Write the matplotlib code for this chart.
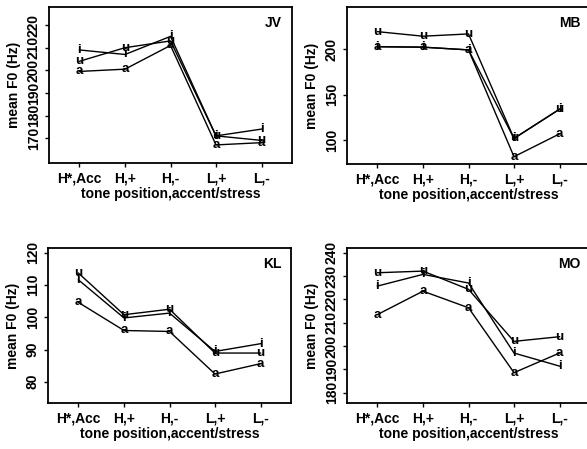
import matplotlib
matplotlib.use('Agg')
import matplotlib.pyplot as plt

plt.rcParams['font.family'] = ['Liberation Sans', 'DejaVu Sans']
plt.rcParams['font.weight'] = 'bold'
plt.rcParams['axes.labelweight'] = 'bold'

# tone positions on the x axis
categories = ['H*,Acc', 'H,+', 'H,-', 'L,+', 'L,-']

# mean F0 per vowel (i, u, a) for every speaker
jv_i = [209, 207, 215, 171, 174]
jv_u = [204, 210, 213, 171, 169]
jv_a = [199.5, 200.5, 211, 167, 168]

mb_i = [202.5, 202, 199, 102, 134]
mb_u = [219, 214, 216.5, 102, 134]
mb_a = [202.5, 202, 199, 82, 107]

kl_i = [111.6, 99.8, 101.3, 89.4, 91.8]
kl_u = [113.7, 100.8, 102.5, 88.9, 88.9]
kl_a = [104.6, 95.9, 95.6, 82.4, 85.6]

mo_i = [225.7, 230.7, 227, 197, 191.4]
mo_u = [231.4, 232.1, 224.3, 202, 204]
mo_a = [213.5, 223.5, 216.4, 188.6, 197]

speakers = ['JV', 'MB', 'KL', 'MO']
yticks = {'JV': [170, 180, 190, 200, 210, 220],
          'MB': [100, 150, 200],
          'KL': [80, 90, 100, 110, 120],
          'MO': [180, 190, 200, 210, 220, 230, 240]}
ylims = {'JV': (159, 228), 'MB': (74, 246), 'KL': (73.4, 121.5), 'MO': (175.6, 242)}
data = {'JV': (jv_i, jv_u, jv_a), 'MB': (mb_i, mb_u, mb_a),
        'KL': (kl_i, kl_u, kl_a), 'MO': (mo_i, mo_u, mo_a)}

W, H = 587, 449
fig = plt.figure(figsize=(W / 100, H / 100), dpi=100)

# axes boxes in pixels: left, top, width, height
boxes = {'JV': (49, 7, 243, 156), 'MB': (347, 7, 243, 157),
         'KL': (48, 248, 243, 155), 'MO': (347, 248, 243, 155)}

x = list(range(1, len(categories) + 1))

for sp in speakers:
    l, t, w, h = boxes[sp]
    ax = fig.add_axes([l / W, 1 - (t + h) / H, w / W, h / H])
    for vals, letter in zip(data[sp], ['i', 'u', 'a']):
        ax.plot(x, vals, color='black', lw=1.0)
        for xx, yy in zip(x, vals):
            ax.text(xx, yy, letter, ha='center', va='center', fontsize=9.5,
                    fontweight='bold', color='black')
    ax.set_xlim(0.33, 5.67)
    ax.set_ylim(*ylims[sp])
    ax.set_xticks(x)
    ax.set_xticklabels(categories, fontsize=10)
    ax.set_yticks(yticks[sp])
    ax.set_yticklabels([str(v) for v in yticks[sp]], rotation=90, va='center', fontsize=10)
    ax.tick_params(direction='out', length=3, width=1, pad=3)
    ax.set_xlabel('tone position,accent/stress', fontsize=10, labelpad=1)
    ax.set_ylabel('mean F0 (Hz)', fontsize=10, labelpad=4)
    for s in ax.spines.values():
        s.set_linewidth(1.3)
    ax.text(0.96, 0.9, sp, transform=ax.transAxes, ha='right', va='center',
            fontsize=10, fontweight='bold')

fig.savefig('out.png', dpi=100)
